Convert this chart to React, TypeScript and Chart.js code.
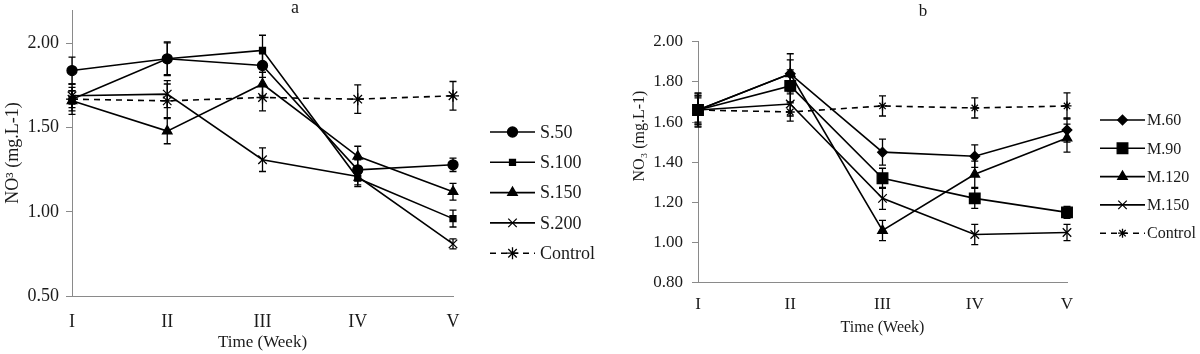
import React, { useEffect, useRef } from "react";
import { Chart, registerables } from "chart.js";
import { drawPoint } from "chart.js/helpers";

Chart.register(...registerables);

// ---------- data ----------
const weeks = ["I", "II", "III", "IV", "V"];

// Panel a
const s50 = [1.84, 1.91, 1.87, 1.25, 1.28];
const s50Err = [0.08, 0.095, 0.07, 0.06, 0.04];
const s100 = [1.67, 1.91, 1.96, 1.2, 0.96];
const s100Err = [0.09, 0.1, 0.09, 0.05, 0.05];
const s150 = [1.66, 1.48, 1.76, 1.33, 1.12];
const s150Err = [0.06, 0.075, 0.07, 0.06, 0.05];
const s200 = [1.69, 1.7, 1.31, 1.21, 0.81];
const s200Err = [0.05, 0.08, 0.07, 0.05, 0.03];
const ctrlA = [1.67, 1.66, 1.68, 1.67, 1.69];
const ctrlAErr = [0.05, 0.1, 0.08, 0.085, 0.085];
const yTicksA = [0.5, 2.2, 0.5]; // min, max, step

// Panel b
const m60 = [1.66, 1.84, 1.45, 1.43, 1.56];
const m60Err = [0.08, 0.1, 0.065, 0.056, 0.06];
const m90 = [1.66, 1.78, 1.32, 1.22, 1.15];
const m90Err = [0.07, 0.08, 0.05, 0.05, 0.03];
const m120 = [1.66, 1.84, 1.06, 1.34, 1.52];
const m120Err = [0.07, 0.07, 0.05, 0.065, 0.07];
const m150 = [1.66, 1.69, 1.22, 1.04, 1.05];
const m150Err = [0.06, 0.06, 0.055, 0.05, 0.04];
const ctrlB = [1.66, 1.65, 1.68, 1.67, 1.68];
const ctrlBErr = [0.085, 0.045, 0.05, 0.05, 0.065];
const yTicksB = [0.8, 2.0, 0.2];

const FONT = "'Liberation Serif', 'Times New Roman', serif";
const AXIS_GRAY = "#8a8a8a";
const TEXT = "#1a1a1a";

// ---------- plugins ----------
const errorBarPlugin = {
  id: "errorBars",
  afterDatasetsDraw(chart: any) {
    const ctx = chart.ctx;
    const ys = chart.scales.y;
    chart.data.datasets.forEach((ds: any, i: number) => {
      const errs = ds.errors;
      if (!errs) return;
      const meta = chart.getDatasetMeta(i);
      ctx.save();
      ctx.strokeStyle = "#000";
      ctx.lineWidth = 1.3;
      ctx.setLineDash([]);
      meta.data.forEach((pt: any, j: number) => {
        const v = ds.data[j];
        const e = errs[j];
        const x = pt.x;
        const yt = ys.getPixelForValue(v + e);
        const yb = ys.getPixelForValue(v - e);
        ctx.beginPath();
        ctx.moveTo(x, yt);
        ctx.lineTo(x, yb);
        ctx.moveTo(x - 3.5, yt);
        ctx.lineTo(x + 3.5, yt);
        ctx.moveTo(x - 3.5, yb);
        ctx.lineTo(x + 3.5, yb);
        ctx.stroke();
      });
      ctx.restore();
    });
  },
};

const sideLegendPlugin = {
  id: "sideLegend",
  afterDraw(chart: any, _args: any, opts: any) {
    if (!opts || !opts.display) return;
    const ctx = chart.ctx;
    ctx.save();
    chart.data.datasets.forEach((ds: any, i: number) => {
      const y = opts.y0 + opts.dy * i;
      ctx.strokeStyle = "#000";
      ctx.lineWidth = ds.borderWidth;
      ctx.setLineDash(ds.borderDash || []);
      ctx.beginPath();
      ctx.moveTo(opts.x0, y);
      ctx.lineTo(opts.x1, y);
      ctx.stroke();
      ctx.setLineDash([]);
      ctx.fillStyle = "#000";
      ctx.strokeStyle = "#000";
      ctx.lineWidth = ds.pointBorderWidth;
      drawPoint(
        ctx,
        { pointStyle: ds.pointStyle, radius: ds.pointRadius, rotation: 0, borderWidth: ds.pointBorderWidth },
        (opts.x0 + opts.x1) / 2,
        y
      );
      ctx.fillStyle = TEXT;
      ctx.font = `${opts.fontSize}px ${FONT}`;
      ctx.textAlign = "left";
      ctx.textBaseline = "middle";
      ctx.fillText(ds.label, opts.textX, y + 1);
    });
    ctx.restore();
  },
};

const freeTextPlugin = {
  id: "freeText",
  afterDraw(chart: any, _args: any, opts: any) {
    if (!opts || !opts.items) return;
    const ctx = chart.ctx;
    opts.items.forEach((it: any) => {
      ctx.save();
      ctx.fillStyle = TEXT;
      ctx.font = `${it.size}px ${FONT}`;
      ctx.textAlign = "center";
      ctx.textBaseline = it.baseline || "middle";
      ctx.translate(it.x, it.y);
      if (it.rotate) ctx.rotate(it.rotate);
      ctx.fillText(it.text, 0, 0);
      ctx.restore();
    });
  },
};

function makeDataset(label: string, data: number[], errors: number[], style: string, radius: number, dashed = false) {
  return {
    label,
    data,
    errors,
    borderColor: "#000",
    backgroundColor: "#000",
    borderWidth: 1.6,
    borderDash: dashed ? [6, 5] : [],
    pointStyle: style,
    pointRadius: radius,
    pointBorderWidth: 1.3,
    pointBackgroundColor: "#000",
    pointBorderColor: "#000",
    tension: 0,
    clip: false as any,
  };
}

function makeConfig(p: any) {
  return {
    type: "line",
    data: { labels: weeks, datasets: p.datasets },
    options: {
      responsive: false,
      animation: false,
      events: [],
      layout: { padding: { top: p.padTop, right: p.padRight, left: 0, bottom: 0 } },
      plugins: {
        legend: { display: false },
        tooltip: { enabled: false },
        title: { display: false },
        sideLegend: p.legend,
        freeText: { items: p.texts },
      },
      scales: {
        x: {
          type: "category",
          offset: false,
          grid: { display: false, drawTicks: false },
          border: { display: true, color: AXIS_GRAY, width: 1 },
          ticks: { color: TEXT, font: { family: FONT, size: p.tickSize }, padding: p.xTickPad, maxRotation: 0, autoSkip: false },
          title: {
            display: true,
            text: "Time (Week)",
            color: TEXT,
            font: { family: FONT, size: p.xTitleSize },
            padding: { top: 0, bottom: p.xTitlePadBottom },
          },
          afterFit: (s: any) => {
            s.height = p.xAxisHeight;
            s.paddingLeft = 0;
            s.paddingRight = 0;
          },
        },
        y: {
          type: "linear",
          min: p.yTicks[0],
          max: p.yTicks[1],
          grid: { display: true, drawOnChartArea: false, drawTicks: true, tickLength: 6, color: AXIS_GRAY },
          border: { display: true, color: AXIS_GRAY, width: 1 },
          ticks: {
            stepSize: p.yTicks[2],
            includeBounds: false,
            color: TEXT,
            font: { family: FONT, size: p.tickSize },
            padding: p.yTickPad,
            callback: (v: any) => Number(v).toFixed(2),
          },
          title: p.yTitle
            ? {
                display: true,
                text: p.yTitle,
                color: TEXT,
                font: { family: FONT, size: p.titleSize },
                padding: { top: p.yTitlePadTop, bottom: 0 },
              }
            : { display: false },
          afterFit: (s: any) => {
            s.width = p.yAxisWidth;
            s.paddingTop = 0;
            s.paddingBottom = 0;
          },
        },
      },
    },
    plugins: [errorBarPlugin, sideLegendPlugin, freeTextPlugin],
  };
}

const panelA = () => ({
  datasets: [
    makeDataset("S.50", s50, s50Err, "circle", 5),
    makeDataset("S.100", s100, s100Err, "rect", 4.2),
    makeDataset("S.150", s150, s150Err, "triangle", 5.5),
    makeDataset("S.200", s200, s200Err, "crossRot", 6),
    makeDataset("Control", ctrlA, ctrlAErr, "star", 6, true),
  ],
  yTicks: yTicksA,
  padTop: 10,
  padRight: 147,
  yAxisWidth: 72,
  xAxisHeight: 58,
  tickSize: 18,
  titleSize: 18,
  xTitleSize: 17,
  xTickPad: 15,
  yTickPad: 7,
  xTitlePadBottom: 1,
  yTitle: "NO³ (mg.L-1)",
  yTitlePadTop: 2,
  legend: { display: true, x0: 490, x1: 535, textX: 540, y0: 132, dy: 30.3, fontSize: 18 },
  texts: [{ text: "a", x: 295, y: 13, size: 18, baseline: "alphabetic" }],
});

const panelB = () => ({
  datasets: [
    makeDataset("M.60", m60, m60Err, "rectRot", 4.8),
    makeDataset("M.90", m90, m90Err, "rect", 7.5),
    makeDataset("M.120", m120, m120Err, "triangle", 5.5),
    makeDataset("M.150", m150, m150Err, "crossRot", 6),
    makeDataset("Control", ctrlB, ctrlBErr, "star", 4.5, true),
  ],
  yTicks: yTicksB,
  padTop: 41.7,
  padRight: 133,
  yAxisWidth: 98,
  xAxisHeight: 71.3,
  tickSize: 17,
  titleSize: 16,
  xTitleSize: 16,
  xTickPad: 12,
  yTickPad: 9,
  xTitlePadBottom: 17,
  yTitle: null,
  yTitlePadTop: 0,
  legend: { display: true, x0: 500, x1: 545, textX: 547, y0: 120, dy: 28.3, fontSize: 16 },
  texts: [
    { text: "b", x: 323, y: 16, size: 17, baseline: "alphabetic" },
    { text: "NO₃ (mg.L-1)", x: 40, y: 136, size: 16, rotate: -Math.PI / 2 },
  ],
});

function ChartCanvas({ build, left }: { build: () => any; left: number }) {
  const ref = useRef<HTMLCanvasElement | null>(null);
  useEffect(() => {
    if (!ref.current) return;
    const chart = new Chart(ref.current, makeConfig(build()) as any);
    return () => chart.destroy();
  }, [build]);
  return (
    <canvas
      ref={ref}
      width={600}
      height={354}
      style={{ position: "absolute", left, top: 0, width: 600, height: 354, display: "block" }}
    />
  );
}

export default function App() {
  useEffect(() => {
    document.body.style.margin = "0";
  }, []);
  return (
    <div style={{ position: "fixed", left: 0, top: 0, width: 1200, height: 354, background: "#fff", overflow: "hidden" }}>
      <ChartCanvas build={panelA} left={0} />
      <ChartCanvas build={panelB} left={600} />
    </div>
  );
}
